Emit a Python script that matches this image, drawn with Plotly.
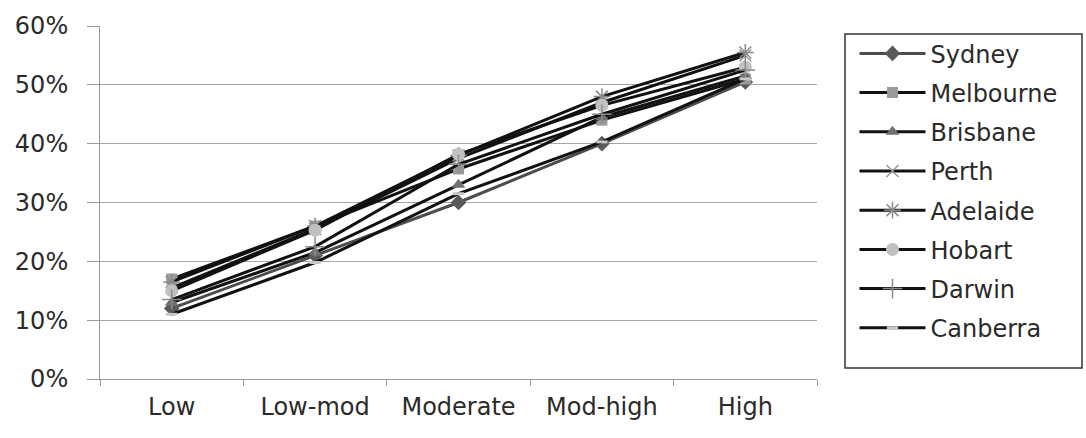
import plotly.graph_objects as go

categories = ["Low", "Low-mod", "Moderate", "Mod-high", "High"]
cities = ["Sydney", "Melbourne", "Brisbane", "Perth", "Adelaide", "Hobart", "Darwin", "Canberra"]

sydney = [0.120, 0.210, 0.300, 0.400, 0.505]
melbourne = [0.170, 0.260, 0.357, 0.440, 0.510]
brisbane = [0.130, 0.215, 0.330, 0.445, 0.515]
perth = [0.155, 0.255, 0.375, 0.470, 0.550]
adelaide = [0.165, 0.260, 0.380, 0.480, 0.555]
hobart = [0.150, 0.253, 0.382, 0.465, 0.530]
darwin = [0.135, 0.225, 0.365, 0.450, 0.525]
canberra = [0.110, 0.198, 0.315, 0.403, 0.510]

series = [sydney, melbourne, brisbane, perth, adelaide, hobart, darwin, canberra]

styles = [
    dict(line="#4d4d4d", symbol="diamond", size=12, mcolor="#5a5a5a", mline=0),
    dict(line="#111111", symbol="square", size=11, mcolor="#9a9a9a", mline=0),
    dict(line="#111111", symbol="triangle-up", size=12, mcolor="#707070", mline=0),
    dict(line="#111111", symbol="x-thin-open", size=12, mcolor="#9a9a9a", mline=1.5),
    dict(line="#111111", symbol="asterisk-open", size=14, mcolor="#8a8a8a", mline=1.5),
    dict(line="#111111", symbol="circle", size=13, mcolor="#c0c0c0", mline=0),
    dict(line="#111111", symbol="cross-thin-open", size=14, mcolor="#8a8a8a", mline=1.5),
    dict(line="#111111", symbol="line-ew-open", size=8, mcolor="#c8c8c8", mline=3),
]

fig = go.Figure()
for name, vals, st in zip(cities, series, styles):
    fig.add_trace(go.Scatter(
        x=categories, y=vals, name=name, mode="lines+markers",
        legendgroup=name,
        line=dict(color=st["line"], width=3),
        marker=dict(symbol=st["symbol"], size=st["size"], color=st["mcolor"],
                    line=dict(color=st["mcolor"], width=st["mline"])),
    ))

font_family = "'DejaVu Sans', Verdana, sans-serif"
fsize = 24

fig.update_layout(
    width=1086, height=438,
    margin=dict(l=100, r=269, t=22, b=59),
    paper_bgcolor="white", plot_bgcolor="white",
    font=dict(family=font_family, size=fsize, color="#2a2a2a"),
    showlegend=True,
    legend=dict(
        x=1.0523, y=0.985, xanchor="left", yanchor="top",
        traceorder="grouped", tracegroupgap=5,
        itemwidth=66, borderwidth=0, bgcolor="rgba(0,0,0,0)",
        font=dict(family=font_family, size=fsize, color="#2a2a2a"),
    ),
    xaxis=dict(
        type="category", range=[-0.5, 4.5], showgrid=False, showline=True,
        linecolor="#9a9a9a", linewidth=1,
        ticks="outside", ticklen=6, tickcolor="#9a9a9a", tickson="boundaries",
        ticklabelstandoff=6, zeroline=False,
    ),
    yaxis=dict(
        range=[0, 0.6], tickvals=[0, 0.1, 0.2, 0.3, 0.4, 0.5, 0.6],
        tickformat=".0%", showgrid=True, gridcolor="#a6a6a6", gridwidth=1,
        showline=True, linecolor="#9a9a9a", linewidth=1,
        ticks="outside", ticklen=12, tickcolor="#9a9a9a",
        ticklabelstandoff=14, zeroline=False,
    ),
    shapes=[dict(
        type="rect", xref="paper", yref="paper",
        x0=(845 - 100) / 717, x1=(1082 - 100) / 717,
        y0=(379 - 368) / 357, y1=(379 - 30) / 357,
        line=dict(color="#333333", width=1.5), fillcolor="rgba(0,0,0,0)",
    )],
)

fig.write_html("out.html")
